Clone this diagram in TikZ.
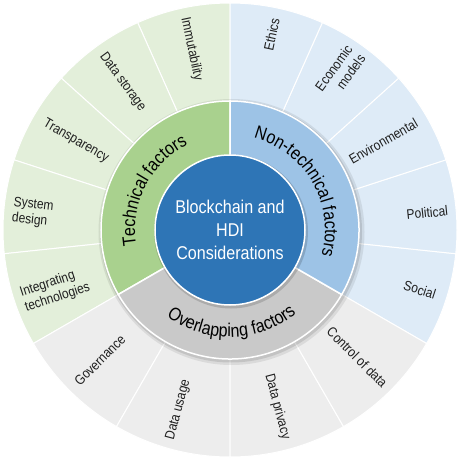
\documentclass[tikz,border=0pt]{standalone}
\usepackage{fontspec}
\setmainfont[FakeStretch=0.87]{Liberation Sans}
\usetikzlibrary{decorations.text}
\definecolor{greenout}{HTML}{E3EFDA}
\definecolor{greenmid}{HTML}{A9D18E}
\definecolor{blueout}{HTML}{DEEBF7}
\definecolor{bluemid}{HTML}{9DC3E6}
\definecolor{grayout}{HTML}{EDEDED}
\definecolor{graymid}{HTML}{C9C9C9}
\definecolor{hubblue}{HTML}{2E75B6}
\newcommand{\ringfont}{\fontsize{18.5}{18.5}\selectfont}
\tikzset{
	seg_out/.style = {
		draw=white,
		line width=1pt
	},
	seg_mid/.style = {
		draw=white,
		line width=1.5pt
	},
	lbl_out/.style = {
		align=center,
		inner sep=0pt,
		text=black!88,
		font=\fontsize{13.8}{16}\selectfont
	},
	hub_txt/.style = {
		align=center,
		inner sep=0pt,
		text=white,
		font=\fontsize{18.5}{23}\selectfont
	},
	ring_txt/.style = {
		decorate,
		decoration={text along path, text align=center, text={|\ringfont|#1}}
	}
}

\begin{document}
\begin{tikzpicture}[x=1pt, y=1pt]
\useasboundingbox (-230,-230) rectangle (230,230);
% outer segments
\foreach \a/\b in {90/114, 114/138, 138/162, 162/186, 186/210}
	\filldraw[seg_out, fill=greenout] (0,0) -- (\a:227pt) arc[start angle=\a, end angle=\b, radius=227pt] -- cycle;
\foreach \a/\b in {-30/-6, -6/18, 18/42, 42/66, 66/90}
	\filldraw[seg_out, fill=blueout] (0,0) -- (\a:227pt) arc[start angle=\a, end angle=\b, radius=227pt] -- cycle;
\foreach \a/\b in {210/240, 240/270, 270/300, 300/330}
	\filldraw[seg_out, fill=grayout] (0,0) -- (\a:227pt) arc[start angle=\a, end angle=\b, radius=227pt] -- cycle;
% shadow of the middle ring
\fill[black, opacity=0.08] (1.5,-2) circle[radius=133pt];
\fill[black, opacity=0.10] (1,-1.5) circle[radius=131pt];
% middle ring
\filldraw[seg_mid, fill=greenmid] (0,0) -- (90:129pt) arc[start angle=90, end angle=210, radius=129pt] -- cycle;
\filldraw[seg_mid, fill=graymid] (0,0) -- (210:129pt) arc[start angle=210, end angle=330, radius=129pt] -- cycle;
\filldraw[seg_mid, fill=bluemid] (0,0) -- (-30:129pt) arc[start angle=-30, end angle=90, radius=129pt] -- cycle;
% hub
\fill[black, opacity=0.15] (1,-1.5) circle[radius=77pt];
\filldraw[seg_mid, fill=hubblue] (0,0) circle[radius=75pt];
\node[hub_txt] (hub) at (0,0) {Blockchain and\\HDI\\Considerations};

\path[ring_txt={Technical factors}] (210:95pt) arc[start angle=210, end angle=96, radius=95pt];
\path[ring_txt={Non-technical factors}] (88:95pt) arc[start angle=88, end angle=-28, radius=95pt];
\path[ring_txt={Overlapping factors}] (214:107pt) arc[start angle=214, end angle=328, radius=107pt];

\node[lbl_out, rotate=-78] (immut) at (102:185pt) {Immutability};
\node[lbl_out, rotate=-54] (storage) at (126:183pt) {Data storage};
\node[lbl_out, rotate=-30] (transp) at (150:178pt) {Transparency};
\node[lbl_out, rotate=-6, align=left] (sysdes) at (175:198pt) {System\\design};
\node[lbl_out, rotate=18, align=left] (integr) at (199:185pt) {Integrating\\technologies};

\node[lbl_out, rotate=78] (ethics) at (78:200pt) {Ethics};
\node[lbl_out, rotate=54, align=right] (econ) at (55:192pt) {Economic\\models};
\node[lbl_out, rotate=30] (environ) at (30:177pt) {Environmental};
\node[lbl_out, rotate=6] (polit) at (5:198pt) {Political};
\node[lbl_out, rotate=-18] (social) at (-17.5:199pt) {Social};

\node[lbl_out, rotate=45] (govern) at (225:184pt) {Governance};
\node[lbl_out, rotate=75] (usage) at (254:187pt) {Data usage};
\node[lbl_out, rotate=-75] (privacy) at (285:183pt) {Data privacy};
\node[lbl_out, rotate=-45] (control) at (315:180pt) {Control of data};
\end{tikzpicture}
\end{document}
